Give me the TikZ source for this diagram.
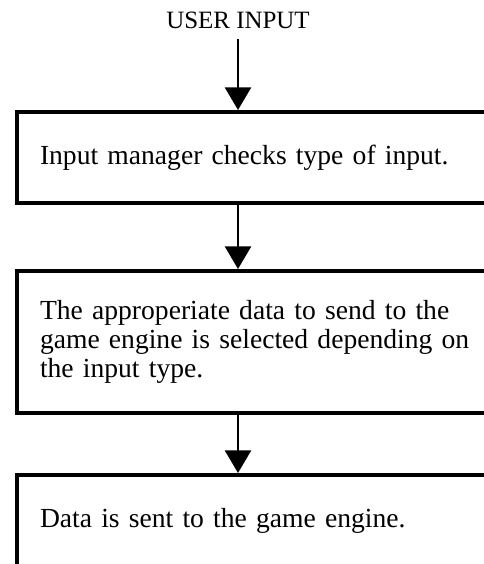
\documentclass[tikz,border=0pt]{standalone}
\usepackage{fontspec}
\setmainfont{Liberation Serif}
\usepackage{tikz}
\usetikzlibrary{arrows.meta}

\begin{document}
\begin{tikzpicture}[x=0.75pt,y=-0.75pt,
  font=\fontsize{20.7pt}{21.75pt}\selectfont,
  stepbox/.style={draw, line width=3pt, anchor=north west, inner xsep=17.25pt,
    text width=351.75pt, align=left},
  flow/.style={-{Triangle[width=19.5pt,length=17pt]}, line width=2pt}]
% flusso dell'input verso il motore di gioco
\path[use as bounding box, clip] (0,0) rectangle (484,564);

\node[anchor=base, inner sep=7.5pt, font=\fontsize{18.7pt}{21.75pt}\selectfont]
  (userin) at (238,28) {USER INPUT};

\node[stepbox, minimum height=68.25pt] (check) at (15,110)
  {Input manager checks type of input.};

\node[stepbox, minimum height=106.5pt] (select) at (15,269)
  {The approperiate data to send to the\\
   game engine is selected depending on\\
   the input type.};

\node[stepbox, minimum height=69pt] (send) at (15,473)
  {Data is sent to the game engine.};

\draw[flow] (userin.south) -- (userin.south |- check.north);
\draw[flow] (userin.south |- check.south) -- (userin.south |- select.north);
\draw[flow] (userin.south |- select.south) -- (userin.south |- send.north);

\end{tikzpicture}
\end{document}
